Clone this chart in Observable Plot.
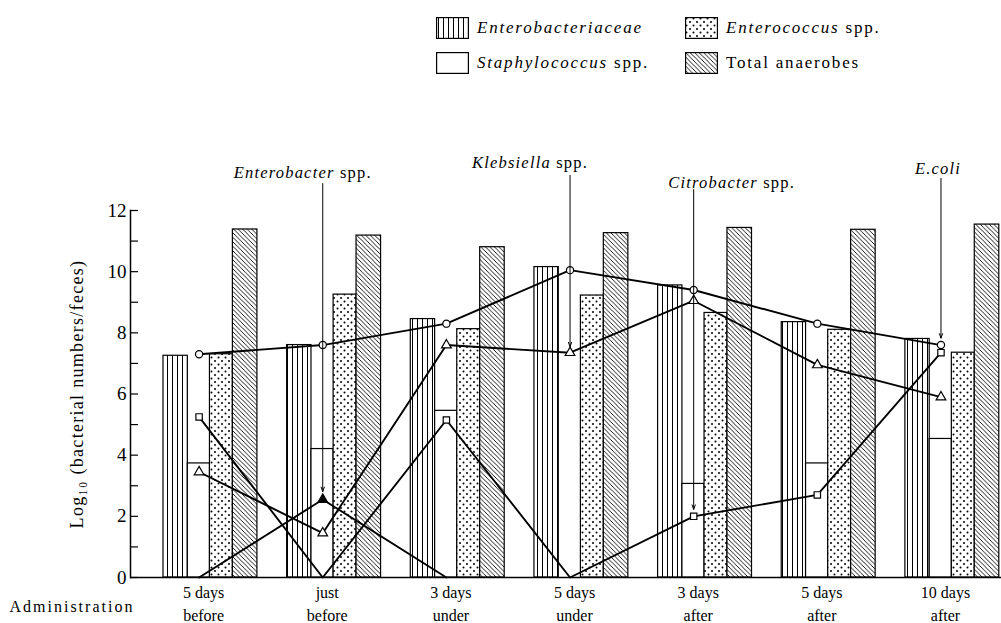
<!DOCTYPE html>
<html>
<head>
<meta charset="utf-8">
<script src="https://cdn.jsdelivr.net/npm/d3@7"></script>
<script src="https://cdn.jsdelivr.net/npm/@observablehq/plot@0.6"></script>
<style>
  html, body { margin: 0; padding: 0; background: #fff; }
  body { font-family: "Liberation Serif", "DejaVu Serif", serif; color: #000; width: 1001px; height: 623px; overflow: hidden; }
  #legend { position: relative; height: 90px; width: 1001px; }
  .item { position: absolute; display: flex; align-items: center; font-size: 17px; letter-spacing: 1.8px; white-space: nowrap; }
  .item svg { margin-right: 8px; display: block; }
</style>
</head>
<body>
<svg width="0" height="0" style="position:absolute">
  <defs>
    <pattern id="pEntero" patternUnits="userSpaceOnUse" width="5" height="8">
      <rect width="5" height="8" fill="white"/>
      <line x1="2.5" y1="0" x2="2.5" y2="8" stroke="black" stroke-width="1"/>
    </pattern>
    <pattern id="pCocc" patternUnits="userSpaceOnUse" width="7" height="7">
      <rect width="7" height="7" fill="white"/>
      <circle cx="1.5" cy="1.5" r="1" fill="black"/>
      <circle cx="5" cy="5" r="1" fill="black"/>
    </pattern>
    <pattern id="pAnaer" patternUnits="userSpaceOnUse" width="4.5" height="4.5">
      <rect width="4.5" height="4.5" fill="white"/>
      <path d="M-1,-1 L5.5,5.5 M-1,3.5 L1,5.5 M3.5,-1 L5.5,1" stroke="black" stroke-width="0.9"/>
    </pattern>
  </defs>
</svg>
<div id="legend"></div>
<div id="chart"></div>
<script>
// ---------- data ----------
const groupLabels = ["5 days\nbefore", "just\nbefore", "3 days\nunder", "5 days\nunder", "3 days\nafter", "5 days\nafter", "10 days\nafter"];
const barNames = ["Enterobacteriaceae", "Staphylococcus spp.", "Enterococcus spp.", "Total anaerobes"];

const enterobacteriaceae = [7.25, 7.6, 8.45, 10.15, 9.55, 8.35, 7.8];
const staphylococcus     = [3.73, 4.2, 5.45, null, 3.06, 3.73, 4.53];
const enterococcus       = [7.3, 9.25, 8.12, 9.22, 8.65, 8.1, 7.35];
const totalAnaerobes     = [11.38, 11.18, 10.8, 11.26, 11.43, 11.37, 11.54];

const eColi        = [7.3, 7.6, 8.3, 10.05, 9.4, 8.3, 7.6];
const klebsiella   = [3.45, 1.45, 7.6, 7.35, 9.05, 6.95, 5.9];
const citrobacter  = [5.25, 0, 5.15, 0, 2.0, 2.7, 7.35];
const enterobacter = [0, 2.55, 0, null, null, null, null];

const yTicks = [0, 2, 4, 6, 8, 10, 12];
const yMinorTicks = [0, 1, 2, 3, 4, 5, 6, 7, 8, 9, 10, 11, 12];
const yLabel = "Log\u2081\u2080 (bacterial numbers/feces)";
const xTitle = "Administration";

const annGenus   = ["Enterobacter", "Klebsiella", "Citrobacter", "E.coli"];
const annSpp     = ["spp.", "spp.", "spp.", ""];
const annSeries  = ["enterobacter", "klebsiella", "citrobacter", "eColi"];
const annGroup   = [1, 3, 4, 6];

// ---------- build tables ----------
const slots = ["gap", "E", "S", "C", "A"];
const key = (g, s) => g + "|" + s;
const xDomain = groupLabels.flatMap((_, g) => slots.map(s => key(g, s)));

const barRows = [];
[["E", enterobacteriaceae], ["S", staphylococcus], ["C", enterococcus], ["A", totalAnaerobes]]
  .forEach(([s, vals]) => vals.forEach((v, g) => { if (v != null) barRows.push({slot: s, key: key(g, s), value: v}); }));

const speciesValues = {eColi, klebsiella, citrobacter, enterobacter};
const lineRows = [];
Object.entries(speciesValues).forEach(([sp, vals]) =>
  vals.forEach((v, g) => { if (v != null) lineRows.push({species: sp, key: key(g, "S"), value: v}); }));

// ---------- marks ----------
const barStyle = {
  E: {fill: "url(#pEntero)", insetLeft: 0, insetRight: 0.4},
  S: {fill: "white", insetLeft: -0.4, insetRight: 3},
  C: {fill: "url(#pCocc)", insetLeft: -3, insetRight: 4.8},
  A: {fill: "url(#pAnaer)", insetLeft: -4.8, insetRight: 5}
};
const dotStyle = {
  eColi: {symbol: "circle", fill: "white"},
  klebsiella: {symbol: "triangle", fill: "white"},
  citrobacter: {symbol: "square", fill: "white"},
  enterobacter: {symbol: "triangle", fill: "black"}
};
const annLayout = [
  {dx: -20, dy: -38, top: 12.88, inset: 8},
  {dx: -40, dy: -48, top: 13.15, inset: 6},
  {dx: 38, dy: -28, top: 12.68, inset: 7},
  {dx: -3, dy: -42, top: 13.05, inset: 7}
];
const ptDx = -1.5;

const marks = [];
Object.entries(barStyle).forEach(([s, st]) =>
  marks.push(Plot.barY(barRows.filter(d => d.slot === s), {x: "key", y: "value", stroke: "black", strokeWidth: 1.2, ...st})));
marks.push(Plot.line(lineRows, {x: "key", y: "value", z: "species", stroke: "black", strokeWidth: 1.9, dx: ptDx}));
Object.entries(dotStyle).forEach(([sp, st]) =>
  marks.push(Plot.dot(lineRows.filter(d => d.species === sp && d.value > 0), {x: "key", y: "value", r: 3.6, stroke: "black", strokeWidth: 1.2, dx: ptDx, ...st})));

annGenus.forEach((genus, i) => {
  const row = {label: annSpp[i] ? genus + " " + annSpp[i] : genus, key: key(annGroup[i], "S"), value: speciesValues[annSeries[i]][annGroup[i]]};
  const L = annLayout[i];
  marks.push(Plot.text([row], {x: "key", text: "label", frameAnchor: "top", lineAnchor: "middle", textAnchor: "middle", dx: ptDx + L.dx, dy: L.dy, fontSize: 16.5, ariaDescription: "annotation"}));
  marks.push(Plot.arrow([row], {x1: "key", x2: "key", y1: L.top, y2: "value", dx: ptDx, insetEnd: L.inset, headLength: 7, headAngle: 40, stroke: "black", strokeWidth: 1}));
});

// axes
marks.push(Plot.ruleY(yMinorTicks, {stroke: "black", strokeWidth: 1.2, insetRight: 1001 - 138}));
marks.push(Plot.ruleY([0], {stroke: "black", strokeWidth: 1.5}));
marks.push(Plot.frame({anchor: "left", stroke: "black", strokeWidth: 1.5}));
marks.push(Plot.axisY({ticks: yTicks, tickSize: 0, tickPadding: 4, fontSize: 19, label: null}));
marks.push(Plot.axisX({ticks: groupLabels.map((_, g) => key(g, "S")), tickFormat: k => groupLabels[+k.split("|")[0]],
  tickSize: 0, tickPadding: 5, fontSize: 16, lineHeight: 1.4, dx: 3, label: null}));
marks.push(Plot.text([yLabel], {frameAnchor: "left", textAnchor: "middle", lineAnchor: "middle", rotate: -90, dx: -53, fontSize: 18, ariaDescription: "ylabel"}));
marks.push(Plot.text([xTitle], {frameAnchor: "bottom-left", textAnchor: "start", lineAnchor: "middle", dx: -121, dy: 29, fontSize: 16, ariaDescription: "xtitle"}));

const chart = Plot.plot({
  width: 1001,
  height: 533,
  marginLeft: 130,
  marginRight: 0,
  marginTop: 120,
  marginBottom: 46,
  style: {fontFamily: "'Liberation Serif', 'DejaVu Serif', serif", fontSize: "16px", background: "white", color: "black", overflow: "visible"},
  x: {type: "band", domain: xDomain, range: [138.27, 1003.8], padding: 0, round: false},
  y: {domain: [0, 12]},
  marks
});
document.getElementById("chart").appendChild(chart);

// letter spacing and italic genus names
chart.querySelectorAll('g[aria-description="annotation"]').forEach(g => g.setAttribute("letter-spacing", "1.2"));
chart.querySelectorAll('g[aria-description="ylabel"]').forEach(g => g.setAttribute("letter-spacing", "1.3"));
chart.querySelectorAll('g[aria-description="xtitle"]').forEach(g => g.setAttribute("letter-spacing", "2"));
chart.querySelectorAll('g[aria-description="annotation"] text').forEach(t => {
  const s = t.textContent;
  const i = s.indexOf(" spp.");
  t.textContent = "";
  const a = document.createElementNS("http://www.w3.org/2000/svg", "tspan");
  a.setAttribute("font-style", "italic");
  a.textContent = i >= 0 ? s.slice(0, i) : s;
  t.appendChild(a);
  if (i >= 0) {
    const b = document.createElementNS("http://www.w3.org/2000/svg", "tspan");
    b.textContent = " spp.";
    t.appendChild(b);
  }
});

// ---------- legend ----------
const legendFills = ["url(#pEntero)", "white", "url(#pCocc)", "url(#pAnaer)"];
const legendPos = [{left: 436, top: 17}, {left: 436, top: 52}, {left: 685, top: 17}, {left: 685, top: 52}];
const legend = d3.select("#legend");
barNames.forEach((name, i) => {
  const item = legend.append("div").attr("class", "item").style("left", legendPos[i].left + "px").style("top", legendPos[i].top + "px");
  const sw = item.append("svg").attr("width", 33).attr("height", 22);
  sw.append("rect").attr("x", 0.6).attr("y", 0.6).attr("width", 31.8).attr("height", 20.8)
    .attr("fill", legendFills[i]).attr("stroke", "black").attr("stroke-width", 1.2);
  const lab = item.append("span");
  const k = name.indexOf(" spp.");
  if (name === "Total anaerobes") lab.text(name);
  else if (k >= 0) { lab.append("i").text(name.slice(0, k)); lab.append("span").text(" spp."); }
  else lab.append("i").text(name);
});
</script>
</body>
</html>
